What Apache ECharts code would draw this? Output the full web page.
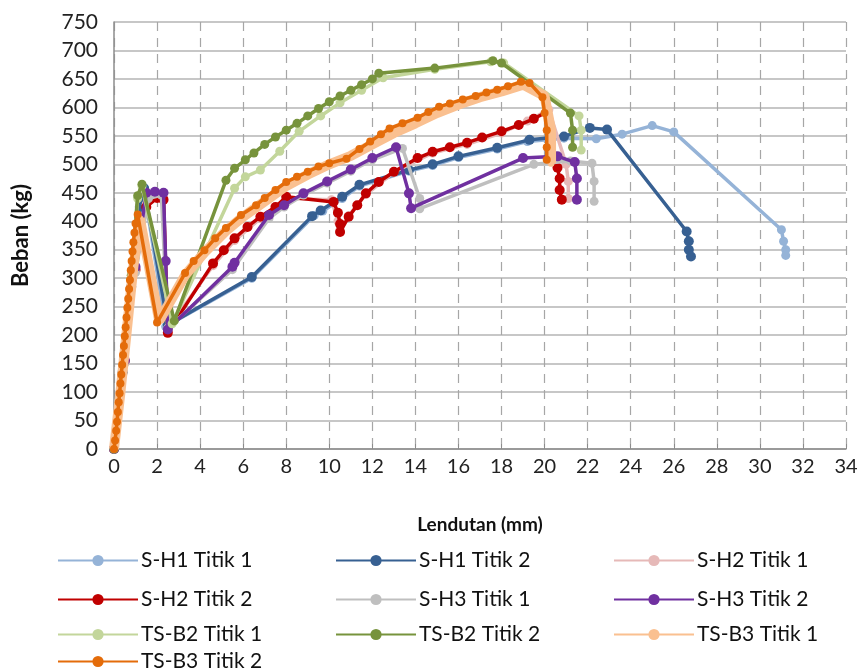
<!DOCTYPE html>
<html>
<head>
<meta charset="utf-8">
<script src="https://cdn.jsdelivr.net/npm/echarts@6/dist/echarts.min.js"></script>
<style>
html,body{margin:0;padding:0;background:#fff;}
#chart{width:863px;height:670px;}
</style>
</head>
<body>
<div id="chart"></div>
<script>
// ---- Data (x = Lendutan mm, y = Beban kg) ----
const seriesNames = ["S-H1 Titik 1","S-H1 Titik 2","S-H2 Titik 1","S-H2 Titik 2","S-H3 Titik 1","S-H3 Titik 2","TS-B2 Titik 1","TS-B2 Titik 2","TS-B3 Titik 1","TS-B3 Titik 2"];

const sh1t1 = [[0,0],[0.4,130],[0.8,280],[1.2,420],[1.4,455],[2.4,215],[6.4,300],[9.3,410],[9.7,418],[10.6,440],[11.4,462],[13.7,488],[14.8,498],[16.0,512],[17.8,527],[19.2,540],[20.9,546],[22.4,545],[23.6,553],[25.0,568],[26.0,557],[31.0,385],[31.1,365],[31.2,350],[31.2,340]];
const sh1t2 = [[0,0],[0.4,135],[0.8,285],[1.2,425],[1.4,458],[2.5,218],[6.4,302],[9.2,409],[9.6,419],[10.6,443],[11.4,464],[13.7,490],[14.8,500],[16.0,514],[17.8,529],[19.3,543],[20.9,549],[22.1,564],[22.9,561],[26.6,382],[26.7,365],[26.7,350],[26.8,338]];
const sh2t1 = [[0,0],[0.5,160],[1.0,320],[1.5,430],[2.0,445],[2.3,440],[2.5,212],[4.6,322],[5.6,366],[6.8,405],[8.0,440],[10.1,438],[10.4,400],[10.5,385],[10.9,410],[11.7,447],[13.0,486],[14.8,520],[16.4,535],[18.0,555],[19.2,576],[20.2,596],[21.0,500],[21.1,470],[21.1,440]];
const sh2t2 = [[0,0],[0.5,155],[1.0,315],[1.5,425],[2.0,441],[2.3,438],[2.5,204],[4.6,326],[5.1,349],[5.6,370],[6.2,390],[6.8,408],[7.5,425],[8.0,443],[10.2,434],[10.4,415],[10.5,395],[10.5,381],[10.9,408],[11.3,428],[11.7,449],[12.3,469],[13.0,487],[14.1,511],[14.8,522],[15.6,530],[16.4,538],[17.1,547],[18.0,558],[18.8,569],[19.5,580],[20.1,592],[20.6,494],[20.7,475],[20.7,455],[20.8,438]];
const sh3t1 = [[0,0],[0.5,150],[1.0,310],[1.6,440],[2.2,446],[2.5,212],[5.5,315],[7.2,405],[7.9,425],[8.8,446],[9.9,467],[11.0,488],[12.0,508],[13.4,528],[14.2,440],[14.2,422],[19.5,500],[21.2,506],[22.2,502],[22.3,470],[22.3,435]];
const sh3t2 = [[0,0],[0.5,155],[1.0,320],[1.5,450],[1.9,452],[2.3,450],[2.4,330],[2.5,210],[5.5,320],[5.6,327],[7.2,411],[7.9,428],[8.8,449],[9.9,470],[11.0,491],[12.0,511],[13.1,530],[13.7,449],[13.8,423],[19.0,511],[20.6,514],[21.4,504],[21.5,475],[21.5,438]];
const tsb2t1 = [[0,0],[0.4,140],[0.8,300],[1.1,440],[1.3,462],[2.7,220],[5.6,458],[6.1,478],[6.8,490],[7.7,523],[8.6,558],[9.6,585],[10.5,608],[11.5,630],[12.5,652],[14.9,667],[17.5,680],[18.1,678],[21.6,585],[21.7,560],[21.7,525]];
const tsb2t2 = [[0,0],[0.4,145],[0.8,305],[1.1,445],[1.3,465],[2.8,225],[5.2,472],[5.6,493],[6.1,508],[6.5,520],[7.0,535],[7.5,548],[8.0,560],[8.5,572],[9.0,585],[9.5,598],[10.0,610],[10.5,620],[11.0,630],[11.5,640],[12.0,650],[12.3,660],[14.9,669],[17.6,682],[18.0,678],[21.2,590],[21.3,560],[21.3,530]];
const tsb3t1 = [[0,0],[0.3,100],[0.6,210],[0.9,320],[1.2,405],[2.1,225],[3.3,305],[4.2,345],[5.2,383],[6.0,408],[7.0,435],[8.0,462],[9.0,482],[10.0,500],[11.0,515],[12.0,535],[13.0,555],[14.0,572],[15.0,590],[16.0,605],[17.0,618],[18.0,628],[19.0,640],[20.0,620],[20.3,560],[20.3,502]];
const tsb3t2 = [[0,0],[0.05,15],[0.1,32],[0.14,48],[0.18,65],[0.22,82],[0.26,98],[0.3,115],[0.34,131],[0.38,148],[0.42,165],[0.46,181],[0.5,198],[0.54,214],[0.58,231],[0.62,248],[0.66,264],[0.7,281],[0.74,297],[0.78,314],[0.82,330],[0.86,347],[0.9,363],[0.95,380],[1.0,396],[1.1,412],[2.0,222],[3.3,309],[3.7,330],[4.2,349],[4.7,370],[5.2,388],[5.9,411],[6.6,428],[7.0,441],[7.5,455],[8.0,469],[8.5,478],[9.0,487],[9.5,496],[10.0,502],[10.8,510],[11.4,527],[11.9,540],[12.4,553],[12.8,563],[13.4,572],[14.1,582],[14.6,592],[15.1,601],[15.6,607],[16.2,614],[16.8,620],[17.3,626],[17.8,631],[18.3,637],[18.9,645],[19.3,643],[19.9,618],[20.0,590],[20.1,560],[20.1,530],[20.1,508]];

const allData = [sh1t1, sh1t2, sh2t1, sh2t2, sh3t1, sh3t2, tsb2t1, tsb2t2, tsb3t1, tsb3t2];
const xTicks = {min:0, max:34, interval:2};
const yTicks = {min:0, max:750, interval:50};

// ---- Styles ----
const colors = ["#95B3D7","#376092","#E6B9B8","#C00000","#BFBFBF","#7030A0","#C3D69B","#77933C","#FAC090","#E46C0A"];
const widths = [3.5,3.5,3.5,3.5,3.5,3.5,3.5,3.5,10,3.5];
const symSizes = [9,10,9,10,9,10,9,9,7,8];
const FONT = "Lato, 'Open Sans', sans-serif";

const series = seriesNames.map((n,i)=>({
  name:n, type:'line', data: allData[i],
  symbol:'circle', symbolSize: symSizes[i], showSymbol:true,
  lineStyle:{color:colors[i], width:widths[i]},
  itemStyle:{color:colors[i]},
  emphasis:{disabled:true},
  z: 2 + i
}));

// Legend placement: 3 columns
const colX = [52, 330, 608];
const rowY = [545, 584, 619, 646];
const legends = seriesNames.map((n,i)=>({
  data:[n], left: colX[i%3], top: rowY[Math.floor(i/3)],
  itemWidth: 80, itemHeight: 14, itemGap: 0,
  textStyle:{fontFamily:FONT, fontSize:21, lineHeight:20, color:'#111', padding:[0,0,0,-2]},
  selectedMode:false
}));

const chart = echarts.init(document.getElementById('chart'), null, {renderer:'canvas'});
chart.setOption({
  animation:false,
  backgroundColor:'#fff',
  color: colors,
  grid:{left:114, right:17, top:22, bottom:221, containLabel:false, outerBoundsMode:'none'},
  legend: legends,
  xAxis:{
    type:'value', min:xTicks.min, max:xTicks.max, interval:xTicks.interval,
    name:'Lendutan (mm)', nameLocation:'middle', nameGap:66,
    nameTextStyle:{fontFamily:FONT, fontSize:19, fontWeight:'bold', color:'#111'},
    axisLine:{show:true, lineStyle:{color:'#8c8c8c', width:1.5}},
    axisTick:{show:true, inside:true, length:5, lineStyle:{color:'#8c8c8c'}},
    axisLabel:{fontFamily:FONT, fontSize:20, color:'#222', margin:8},
    splitLine:{show:true, lineStyle:{color:'#a6a6a6', type:[9,7], width:1.2}}
  },
  yAxis:{
    type:'value', min:yTicks.min, max:yTicks.max, interval:yTicks.interval,
    name:'Beban (kg)', nameLocation:'middle', nameGap:82, nameRotate:90,
    nameTextStyle:{fontFamily:FONT, fontSize:22, fontWeight:'bold', color:'#111'},
    axisLine:{show:true, lineStyle:{color:'#8c8c8c', width:1.5}},
    axisTick:{show:false},
    axisLabel:{fontFamily:FONT, fontSize:21, color:'#222', margin:16},
    splitLine:{show:true, lineStyle:{color:'#b5b5b5', width:1.5}}
  },
  series: series
});
</script>
</body>
</html>
